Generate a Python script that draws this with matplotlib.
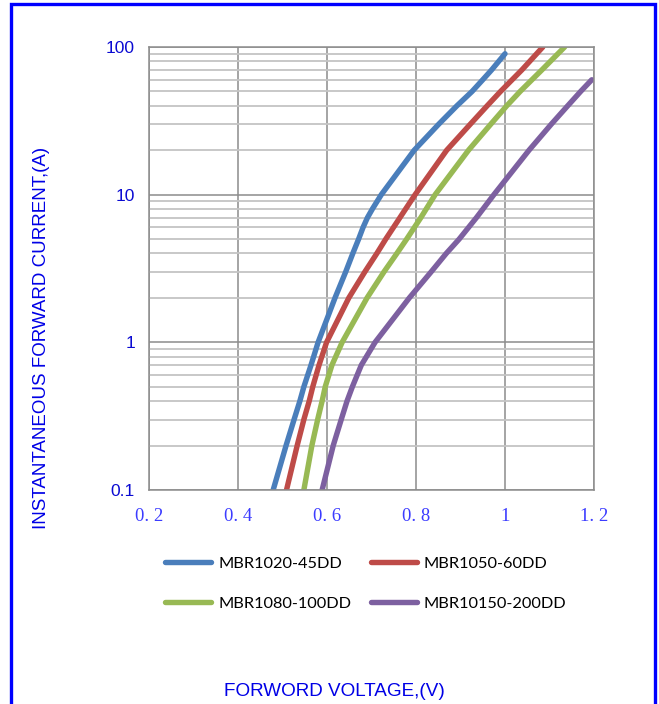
import matplotlib
matplotlib.use("Agg")
import matplotlib.pyplot as plt
from matplotlib.patches import Rectangle
from matplotlib.lines import Line2D
from matplotlib.ticker import FixedLocator, NullFormatter

# ---- data ----
series_names = ["MBR1020-45DD", "MBR1050-60DD", "MBR1080-100DD", "MBR10150-200DD"]
series_colors = ["#4a7ebb", "#be4b48", "#98b954", "#7d60a0"]

i_1020 = [0.1, 0.2, 0.3, 0.4, 0.5, 0.7, 1, 2, 3, 4, 5, 6, 7, 8, 10, 20, 30, 40, 50, 60, 70, 90]
v_1020 = [0.479, 0.508, 0.526, 0.539, 0.548, 0.564, 0.580, 0.618, 0.642, 0.658, 0.671,
          0.681, 0.691, 0.702, 0.722, 0.796, 0.851, 0.892, 0.926, 0.950, 0.970, 1.000]

i_1050 = [0.1, 0.2, 0.3, 0.4, 0.5, 0.7, 1, 2, 3, 4, 5, 7, 10, 20, 30, 40, 50, 70, 100]
v_1050 = [0.509, 0.533, 0.548, 0.560, 0.568, 0.582, 0.599, 0.649, 0.685, 0.712, 0.732,
          0.764, 0.798, 0.869, 0.922, 0.960, 0.990, 1.038, 1.085]

i_1080 = [0.1, 0.2, 0.3, 0.4, 0.5, 0.7, 1, 2, 3, 4, 5, 7, 10, 20, 30, 40, 50, 70, 100]
v_1080 = [0.548, 0.566, 0.579, 0.589, 0.596, 0.611, 0.634, 0.690, 0.728, 0.757, 0.779,
          0.811, 0.843, 0.918, 0.968, 1.004, 1.034, 1.083, 1.134]

i_10150 = [0.1, 0.2, 0.3, 0.4, 0.5, 0.7, 1, 2, 3, 4, 5, 7, 10, 20, 30, 40, 50, 60]
v_10150 = [0.589, 0.614, 0.632, 0.645, 0.657, 0.677, 0.708, 0.785, 0.834, 0.868, 0.897,
           0.936, 0.975, 1.054, 1.104, 1.141, 1.170, 1.195]

x_ticks = [0.2, 0.4, 0.6, 0.8, 1.0, 1.2]
x_tick_labels = ["0. 2", "0. 4", "0. 6", "0. 8", "1", "1. 2"]
y_ticks = [0.1, 1, 10, 100]
y_tick_labels = ["0.1", "1", "10", "100"]

xs = [v_1020, v_1050, v_1080, v_10150]
ys = [i_1020, i_1050, i_1080, i_10150]

W, H = 659, 704
fig = plt.figure(figsize=(W / 100, H / 100), dpi=100)

# blue outer frame
fig.patches.append(Rectangle((10.5 / W, -0.05), (655 - 10.5) / W, 1.05 - 4 / H,
                             transform=fig.transFigure, fill=False,
                             edgecolor="#0000ff", linewidth=2.4))

ax = fig.add_axes([149 / W, 1 - 490 / H, (594 - 149) / W, (490 - 47) / H])
ax.set_yscale("log")
ax.set_xlim(0.2, 1.2)
ax.set_ylim(0.1, 100)

ax.yaxis.set_minor_locator(FixedLocator([m * 10.0 ** e for e in (-1, 0, 1) for m in range(2, 10)]))
ax.yaxis.set_minor_formatter(NullFormatter())
ax.set_yticks(y_ticks)
ax.set_yticklabels(y_tick_labels)
ax.set_xticks(x_ticks)
ax.set_xticklabels(x_tick_labels)

ax.grid(True, which="major", color="#8c8c8c", linewidth=1.1)
ax.grid(True, which="minor", axis="y", color="#c4c4c4", linewidth=1.3)
ax.set_axisbelow(True)
for s in ax.spines.values():
    s.set_color("#8c8c8c")
    s.set_linewidth(1.1)

ax.tick_params(which="both", length=0)
ax.tick_params(axis="y", pad=10, labelsize=12.5, labelcolor="#0a0ad2")
for t in ax.get_yticklabels():
    t.set_fontfamily("Liberation Sans")
ax.tick_params(axis="x", pad=13, labelsize=13.5, labelcolor="#3c3cff")
for t in ax.get_xticklabels():
    t.set_fontfamily("Liberation Serif")

for x, y, c, n in zip(xs, ys, series_colors, series_names):
    ax.plot(x, y, color=c, linewidth=3.9, solid_capstyle="round",
            solid_joinstyle="round", label=n)

# axis titles
fig.text(42 / W, 1 - 338 / H, "INSTANTANEOUS FORWARD CURRENT,(A)", rotation=90,
         ha="center", va="center", color="#0000e6", fontsize=13.5,
         family="Liberation Sans")
fig.text(334 / W, 1 - 692 / H, "FORWORD VOLTAGE,(V)", ha="center", va="center",
         color="#0000e6", fontsize=13.6, family="Liberation Sans")

# legend (column-wise fill: blue, green | red, purple)
order = [0, 2, 1, 3]
handles = [Line2D([], [], color=series_colors[k], linewidth=3.9, solid_capstyle="round")
           for k in order]
labels = [series_names[k] for k in order]
leg = fig.legend(handles, labels, ncol=2, loc="upper left",
                 bbox_to_anchor=(150 / W, 1 - 542 / H), frameon=False,
                 prop={"family": "Lato", "size": 11.8},
                 handlelength=2.8, handletextpad=0.45, columnspacing=1.2,
                 labelspacing=1.55)

fig.savefig("out.png", dpi=100)
